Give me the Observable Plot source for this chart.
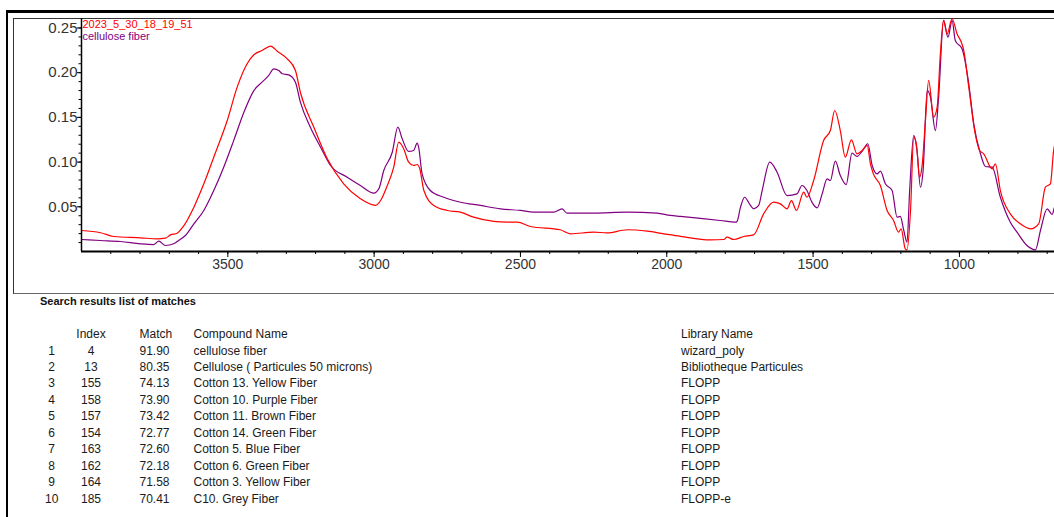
<!DOCTYPE html>
<html>
<head>
<meta charset="utf-8">
<script src="https://cdn.jsdelivr.net/npm/d3@7"></script>
<script src="https://cdn.jsdelivr.net/npm/@observablehq/plot@0.6"></script>
<style>
  html, body { margin: 0; padding: 0; background: #fff; overflow: hidden; }
  body { width: 1054px; height: 517px; position: relative; font-family: "Liberation Sans", Arial, sans-serif; }
  .outer { position: absolute; left: 6px; top: 10px; width: 1200px; height: 600px;
           border-left: 2px solid #000; border-top: 3px solid #000; box-sizing: border-box; }
  .inner { position: absolute; left: 13px; top: 17.5px; width: 1200px; height: 276px;
           border-left: 1px solid #333; border-top: 1px solid #333; border-bottom: 1.5px solid #666; box-sizing: border-box; }
  #chart { position: absolute; left: 0; top: 0; }
  .t { position: absolute; font-size: 12px; line-height: 12px; color: #1a1a1a; white-space: nowrap; }
  .c { transform: translateX(-50%); }
  .title { position: absolute; left: 40px; top: 295.7px; font-size: 11px; line-height: 11px; font-weight: bold; color: #111; }
</style>
</head>
<body>
<div class="outer"></div>
<div class="inner"></div>
<div id="chart"></div>
<div class="title">Search results list of matches</div>
<div id="table"></div>
<script>
// Spectrum of the measured sample (wavenumber in cm-1, absorbance)
const sampleName = "2023_5_30_18_19_51";
const sampleWn = [4000, 3935, 3890, 3798, 3741, 3713, 3696, 3673, 3650, 3616, 3582, 3548, 3502, 3468, 3434, 3411, 3383, 3354, 3331, 3297, 3269, 3252, 3206, 3160, 3104, 3047, 2995, 2978, 2955, 2933, 2916, 2899, 2882, 2865, 2853, 2844, 2830, 2796, 2750, 2705, 2660, 2591, 2546, 2511, 2466, 2364, 2329, 2250, 2204, 2135, 2067, 2010, 1953, 1851, 1805, 1794, 1771, 1737, 1703, 1669, 1635, 1612, 1589, 1574, 1557, 1532, 1521, 1498, 1464, 1441, 1426, 1407, 1390, 1369, 1350, 1332, 1315, 1304, 1295, 1270, 1247, 1225, 1208, 1199, 1185, 1179, 1167, 1156, 1147, 1136, 1128, 1116, 1105, 1088, 1076, 1065, 1054, 1042, 1025, 1008, 991, 985, 968, 946, 931, 917, 888, 877, 860, 826, 792, 757, 729, 706, 689, 678, 669];
const sampleAbs = [0.0235, 0.021, 0.0168, 0.0153, 0.0142, 0.0149, 0.0186, 0.0205, 0.029, 0.0496, 0.0757, 0.1055, 0.1465, 0.1838, 0.21, 0.22, 0.2248, 0.2297, 0.224, 0.2155, 0.2025, 0.178, 0.139, 0.1037, 0.0757, 0.059, 0.0515, 0.057, 0.0738, 0.0943, 0.1223, 0.1149, 0.0999, 0.0962, 0.0973, 0.0925, 0.0682, 0.0515, 0.0459, 0.044, 0.0384, 0.0336, 0.0328, 0.0328, 0.028, 0.0243, 0.0198, 0.0216, 0.0209, 0.0243, 0.0227, 0.0198, 0.017, 0.013, 0.0134, 0.016, 0.0134, 0.0168, 0.0186, 0.0421, 0.0552, 0.0533, 0.0477, 0.057, 0.0459, 0.0664, 0.0607, 0.0794, 0.1242, 0.1353, 0.1577, 0.1353, 0.1055, 0.1249, 0.1093, 0.113, 0.1186, 0.0981, 0.0876, 0.0738, 0.0459, 0.0347, 0.0216, 0.0254, 0.003, 0.0019, 0.0459, 0.1279, 0.1205, 0.0831, 0.0943, 0.1465, 0.1913, 0.1502, 0.1614, 0.2211, 0.2584, 0.2435, 0.2603, 0.2435, 0.232, 0.2248, 0.1838, 0.1317, 0.113, 0.1093, 0.0925, 0.0981, 0.0682, 0.0421, 0.031, 0.0254, 0.031, 0.0719, 0.0757, 0.113, 0.125];

// Library reference spectrum
const refName = "cellulose fiber";
const refWn = [4000, 3935, 3867, 3798, 3753, 3736, 3713, 3685, 3668, 3645, 3616, 3582, 3548, 3514, 3480, 3445, 3411, 3383, 3360, 3343, 3326, 3314, 3292, 3269, 3252, 3218, 3183, 3149, 3092, 3047, 3001, 2984, 2967, 2938, 2919, 2904, 2882, 2865, 2853, 2848, 2836, 2808, 2762, 2705, 2637, 2568, 2500, 2455, 2386, 2358, 2341, 2250, 2135, 2033, 1988, 1953, 1885, 1817, 1766, 1760, 1748, 1734, 1714, 1703, 1686, 1674, 1648, 1623, 1589, 1555, 1538, 1521, 1504, 1486, 1469, 1452, 1441, 1424, 1407, 1387, 1367, 1350, 1332, 1313, 1298, 1281, 1270, 1253, 1230, 1213, 1202, 1190, 1179, 1170, 1156, 1145, 1133, 1124, 1110, 1099, 1082, 1071, 1054, 1039, 1025, 1014, 991, 968, 951, 928, 911, 888, 860, 826, 803, 769, 740, 723, 700, 683, 675, 665];
const refAbs = [0.0134, 0.0123, 0.0112, 0.0086, 0.0078, 0.0115, 0.0067, 0.0086, 0.0123, 0.0179, 0.031, 0.0459, 0.0682, 0.0943, 0.124, 0.1558, 0.18, 0.1894, 0.1969, 0.2043, 0.2025, 0.1988, 0.1976, 0.1894, 0.167, 0.139, 0.1167, 0.0962, 0.0831, 0.0738, 0.0652, 0.0701, 0.0906, 0.111, 0.139, 0.126, 0.1119, 0.113, 0.1212, 0.1167, 0.0869, 0.0682, 0.0607, 0.0551, 0.0515, 0.0477, 0.0459, 0.044, 0.044, 0.0477, 0.0429, 0.0429, 0.044, 0.0429, 0.0403, 0.0392, 0.037, 0.0347, 0.0328, 0.0336, 0.0496, 0.0607, 0.0515, 0.0477, 0.0515, 0.0682, 0.0999, 0.0887, 0.0626, 0.0645, 0.0738, 0.0682, 0.0552, 0.0489, 0.0645, 0.0813, 0.0794, 0.101, 0.085, 0.0749, 0.11, 0.1063, 0.1122, 0.1205, 0.0962, 0.0869, 0.0898, 0.0757, 0.0682, 0.0384, 0.0392, 0.0235, 0.0104, 0.0682, 0.1298, 0.113, 0.0719, 0.0906, 0.1801, 0.1726, 0.1353, 0.1726, 0.2584, 0.2397, 0.2584, 0.236, 0.2267, 0.1876, 0.1428, 0.1093, 0.0951, 0.0943, 0.0607, 0.0328, 0.0216, 0.0067, 0.0019, 0.0235, 0.0477, 0.0414, 0.0496, 0.055];

// Axis ticks
const xMajor = [3500, 3000, 2500, 2000, 1500, 1000];
const xMinor = d3.range(700, 4000, 100);
const yMajor = [0.05, 0.10, 0.15, 0.20, 0.25];
const yMinor = d3.range(1, 26).map(i => i / 100);

// Search results table
const ranks = [1, 2, 3, 4, 5, 6, 7, 8, 9, 10];
const libIndex = [4, 13, 155, 158, 157, 154, 163, 162, 164, 185];
const matchScore = ["91.90", "80.35", "74.13", "73.90", "73.42", "72.77", "72.60", "72.18", "71.58", "70.41"];
const compoundNames = ["cellulose fiber", "Cellulose ( Particules 50 microns)", "Cotton 13. Yellow Fiber", "Cotton 10. Purple Fiber", "Cotton 11. Brown Fiber", "Cotton 14. Green Fiber", "Cotton 5. Blue Fiber", "Cotton 6. Green Fiber", "Cotton 3. Yellow Fiber", "C10. Grey Fiber"];
const libraryNames = ["wizard_poly", "Bibliotheque Particules", "FLOPP", "FLOPP", "FLOPP", "FLOPP", "FLOPP", "FLOPP", "FLOPP", "FLOPP-e"];

const sample = sampleWn.map((wn, i) => ({wn, abs: sampleAbs[i]}));
const reference = refWn.map((wn, i) => ({wn, abs: refAbs[i]}));

const RED = "#ff0000";
const PURPLE = "#800080";
const FONT = "'Liberation Sans', Arial, sans-serif";

const chart = Plot.plot({
  width: 1054,
  height: 300,
  marginLeft: 81,
  marginRight: 0,
  marginTop: 18,
  marginBottom: 49,
  style: {background: "none", fontFamily: FONT, overflow: "visible"},
  x: {domain: [4000, 675], label: null},
  y: {domain: [0, 0.2606], label: null},
  marks: [
    Plot.line(reference, {x: "wn", y: "abs", stroke: PURPLE, strokeWidth: 1.2, curve: "monotone-x", clip: true}),
    Plot.line(sample, {x: "wn", y: "abs", stroke: RED, strokeWidth: 1.2, curve: "monotone-x", clip: true}),
    Plot.axisY({ticks: yMinor, tickSize: 2.5, fill: null, stroke: "#000", label: null}),
    Plot.axisY({ticks: yMajor, tickSize: 4, tickPadding: 0, stroke: "#000", fill: "#333",
                fontSize: 15, tickFormat: d => d.toFixed(2), label: null}),
    Plot.axisX({ticks: xMinor, tickSize: 3, fill: null, stroke: "#000", label: null}),
    Plot.axisX({ticks: xMajor, tickSize: 6, tickPadding: 2, stroke: "#000", fill: "#333",
                fontSize: 14, tickFormat: d => String(d), label: null}),
    Plot.ruleX([4000], {stroke: "#000", strokeWidth: 1.5}),
    Plot.ruleY([0], {stroke: "#000", strokeWidth: 1.8}),
    Plot.text([sampleName], {frameAnchor: "top-left", dx: 1, dy: 2, lineAnchor: "top",
                             textAnchor: "start", fill: RED, fontSize: 11}),
    Plot.text([refName], {frameAnchor: "top-left", dx: 1, dy: 14, lineAnchor: "top",
                          textAnchor: "start", fill: PURPLE, fontSize: 11})
  ]
});
document.getElementById("chart").appendChild(chart);

// Results list below the spectra
const table = document.getElementById("table");
function cell(text, left, top, centered) {
  const d = document.createElement("div");
  d.className = centered ? "t c" : "t";
  d.style.left = left + "px";
  d.style.top = top + "px";
  d.textContent = text;
  table.appendChild(d);
}
const headTop = 328.1, rowStep = 16.44;
cell("Index", 91, headTop, true);
cell("Match", 139.5, headTop, false);
cell("Compound Name", 193.5, headTop, false);
cell("Library Name", 681, headTop, false);
ranks.forEach((r, i) => {
  const top = headTop + rowStep * (i + 1);
  cell(String(r), 51.7, top, true);
  cell(String(libIndex[i]), 91, top, true);
  cell(matchScore[i], 139.5, top, false);
  cell(compoundNames[i], 193.5, top, false);
  cell(libraryNames[i], 681, top, false);
});
</script>
</body>
</html>
